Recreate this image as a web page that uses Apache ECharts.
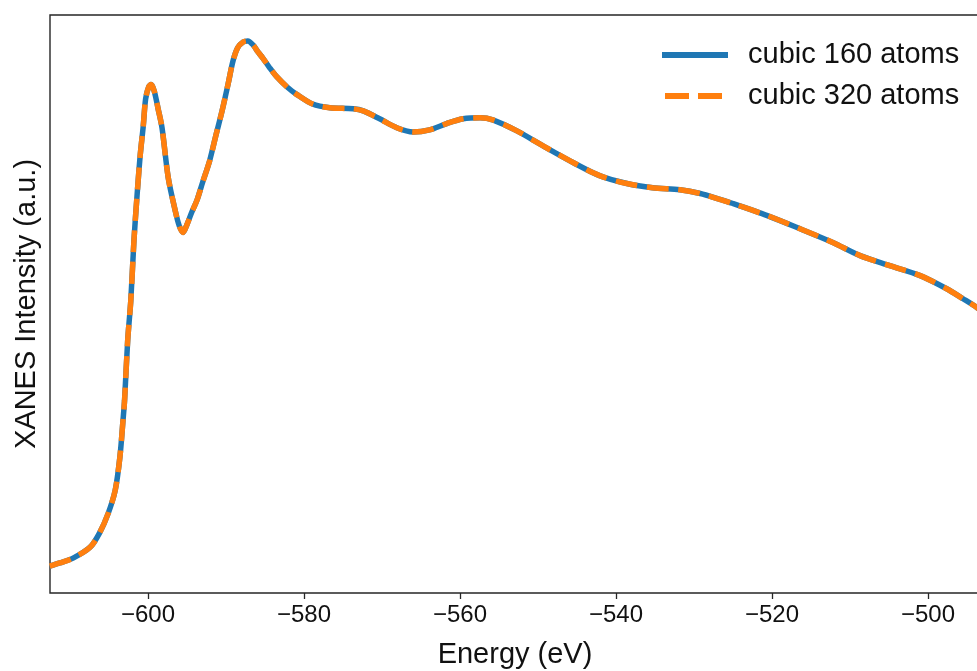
<!DOCTYPE html>
<html>
<head>
<meta charset="utf-8">
<script src="https://cdn.jsdelivr.net/npm/echarts@6/dist/echarts.min.js"></script>
<style>
  html, body { margin: 0; padding: 0; background: #fff; }
  #main { width: 977px; height: 671px; }
</style>
</head>
<body>
<div id="main"></div>
<script>
// energy axis (eV)
const energy = [
  -612.6, -611.3, -609.6, -607.4, -606.2, -605.1, -604.2, -603.6, -603.2, -603.0,
  -602.6, -602.2, -601.8, -601.4, -601.0, -600.6, -600.3, -599.9, -599.6, -599.2,
  -598.7, -598.2, -597.4, -596.5, -596.0, -595.5, -595.0, -594.4, -593.7, -593.0,
  -592.1, -591.3, -590.5, -589.7, -589.1, -588.5, -587.8, -587.2, -586.5, -585.9,
  -585.3, -584.4, -583.5, -582.2, -580.9, -578.9, -576.7, -573.7, -572.4, -570.3,
  -568.1, -566.0, -563.9, -561.7, -559.6, -557.4, -555.8, -552.7, -549.4, -545.5,
  -542.1, -538.6, -535.3, -531.8, -529.2, -526.9, -525.0, -520.6, -516.4, -512.2,
  -508.7, -504.9, -501.0, -497.6, -495.5, -493.7, -493.0
];

// XANES intensity (a.u.)
const cubic160 = [
  0.002, 0.008, 0.017, 0.038, 0.065, 0.102, 0.146, 0.209, 0.279, 0.317,
  0.431, 0.507, 0.620, 0.706, 0.782, 0.839, 0.890, 0.913, 0.917, 0.905,
  0.871, 0.835, 0.740, 0.677, 0.649, 0.636, 0.651, 0.674, 0.698, 0.731,
  0.772, 0.820, 0.867, 0.920, 0.962, 0.987, 0.998, 1.000, 0.992, 0.979,
  0.968, 0.949, 0.932, 0.913, 0.898, 0.880, 0.873, 0.871, 0.867, 0.852,
  0.835, 0.827, 0.831, 0.843, 0.852, 0.854, 0.850, 0.829, 0.801, 0.769,
  0.744, 0.729, 0.721, 0.717, 0.710, 0.700, 0.691, 0.668, 0.643, 0.617,
  0.592, 0.573, 0.554, 0.529, 0.510, 0.493, 0.484
];
const cubic320 = cubic160.slice();

const xTicks = [-600, -580, -560, -540, -520, -500];
const seriesNames = ['cubic 160 atoms', 'cubic 320 atoms'];

const font = 'Liberation Sans, Arial, sans-serif';

// legend icons: solid bar and two dashes (tiny corner squares keep the box the same)
const solidIcon = 'path://M0,0h66v6h-66z';
const dashIcon = 'path://M0,0h0.01v0.01h-0.01z M3,0h24v6h-24z M36,0h24v6h-24z M65.99,5.99h0.01v0.01h-0.01z';

const chart = echarts.init(document.getElementById('main'), null, { renderer: 'canvas' });

function pairs(ys) {
  return energy.map((e, i) => [e, ys[i]]);
}

const option = {
  animation: false,
  backgroundColor: '#fff',
  grid: {
    left: 50, top: 15, right: -3, bottom: 78,
    outerBoundsMode: 'none',
    containLabel: false,
    show: true, borderColor: '#262626', borderWidth: 1.4
  },
  legend: {
    orient: 'vertical',
    left: 657, top: 35,
    itemWidth: 66, itemHeight: 6, itemGap: 11,
    textStyle: { fontFamily: font, fontSize: 29, lineHeight: 30, color: '#111', padding: [0, 0, 0, 15] },
    data: [
      { name: seriesNames[0], icon: solidIcon, itemStyle: { color: '#1f77b4' } },
      { name: seriesNames[1], icon: dashIcon, itemStyle: { color: '#ff7f0e' } }
    ]
  },
  xAxis: {
    type: 'value',
    min: -612.56, max: -493.33,
    name: 'Energy (eV)',
    nameLocation: 'middle',
    nameGap: 47,
    nameTextStyle: { fontFamily: font, fontSize: 29, color: '#111' },
    axisLine: { show: false, onZero: false },
    axisTick: { show: true, length: 6, lineStyle: { color: '#262626', width: 1.3 }, customValues: xTicks },
    axisLabel: {
      fontFamily: font, fontSize: 24, color: '#111', margin: 10,
      customValues: xTicks,
      formatter: v => String(v).replace('-', '\u2212')
    },
    splitLine: { show: false }
  },
  yAxis: {
    type: 'value',
    min: -0.0493, max: 1.0493,
    name: 'XANES Intensity (a.u.)',
    nameLocation: 'middle',
    nameGap: 9,
    nameTextStyle: { fontFamily: font, fontSize: 29, color: '#111' },
    axisLine: { show: false, onZero: false },
    axisTick: { show: false },
    axisLabel: { show: false },
    splitLine: { show: false }
  },
  series: [
    {
      name: seriesNames[0],
      type: 'line',
      data: pairs(cubic160),
      smooth: 0.3,
      symbol: 'none',
      color: '#1f77b4',
      lineStyle: { color: '#1f77b4', width: 5.5 },
      z: 2
    },
    {
      name: seriesNames[1],
      type: 'line',
      data: pairs(cubic320),
      smooth: 0.3,
      symbol: 'none',
      color: '#ff7f0e',
      lineStyle: { color: '#ff7f0e', width: 5.5, type: [22, 9.5], cap: 'butt' },
      z: 3
    }
  ]
};

chart.setOption(option);
</script>
</body>
</html>
